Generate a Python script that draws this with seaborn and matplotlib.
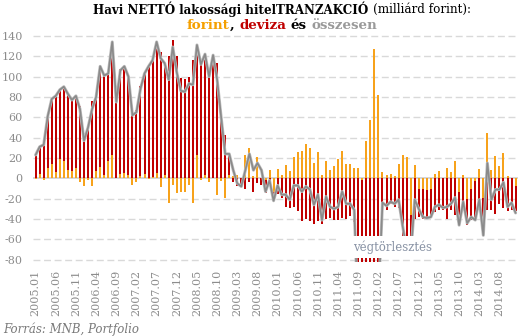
import matplotlib
matplotlib.use("Agg")
import matplotlib.pyplot as plt
import matplotlib.patheffects as pe
from matplotlib.patches import Rectangle
import seaborn as sns
import numpy as np
import pandas as pd

# Havi nettó lakossági hiteltranzakciók, milliárd forint (2005.01 - 2014.12)
honapok = [f"{ev}.{ho:02d}" for ev in range(2005, 2015) for ho in range(1, 13)]

forint = [
    -1, 4, -2, 10, 14, 6, 19, 17, 8, 7, 10, -4,
    -8, -2, -8, 7, 11, 3, 17, 23, 0, 4, 5, 3,
    -7, -4, 2, 4, -1, 1, 5, -9, 3, -24, -7, -14,
    -13, -13, -7, -24, 23, -2, 3, -4, 0, -16, -3, -19,
    3, 2, 3, 0, 23, 30, 2, 21, 0, -2, 8, -13,
    9, 3, 13, 7, 21, 26, 27, 34, 30, 15, 26, 3,
    17, 8, 12, 19, 27, 14, 14, 10, 10, -2, 37, 57,
    127, 82, 6, 3, 4, 2, 14, 23, 21, -36, 13, -10,
    -10, -11, -10, 4, 7, 0, 10, 6, 17, -13, 3, -20,
    -10, -3, 9, -19, 45, 8, 22, 12, 25, 2, 0, -8,
]

deviza = [
    22, 27, 33, 51, 65, 75, 68, 72, 75, 70, 71, 71,
    38, 49, 76, 74, 99, 99, 86, 111, 75, 103, 105, 98,
    69, 67, 89, 99, 111, 115, 128, 124, 110, 120, 136, 120,
    99, 98, 100, 116, 107, 112, 120, 100, 121, 113, 63, 43,
    21, -4, -8, -8, -10, -4, -13, -5, -7, -12, -6, -8,
    -15, -19, -28, -29, -28, -32, -42, -40, -42, -45, -42, -45,
    -40, -39, -41, -41, -39, -40, -37, -43, -150, -200, -250, -280,
    -300, -200, -28, -31, -25, -28, -29, -70, -75, -40, -40, -28,
    -30, -28, -28, -33, -31, -31, -40, -31, -36, -34, -30, -26,
    -31, -36, -31, -37, -31, -31, -35, -25, -29, -32, -31, -24,
]

osszesen = [
    23, 31, 33, 61, 78, 81, 87, 90, 83, 77, 81, 68,
    37, 50, 68, 80, 110, 101, 103, 134, 75, 106, 110, 100,
    62, 65, 88, 103, 110, 116, 134, 118, 113, 97, 129, 104,
    86, 85, 93, 92, 131, 112, 122, 100, 121, 97, 60, 24,
    24, 8, -5, -8, 8, 24, 8, 15, 8, -13, -2, -22,
    -7, -16, -16, -21, -7, -7, -13, -8, -11, -26, -16, -41,
    -18, -28, -30, -28, -13, -25, -25, -31, -140, -200, -213, -223,
    -173, -118, -24, -27, -23, -25, -21, -47, -70, -76, -21, -30,
    -38, -39, -38, -28, -26, -29, -28, -25, -19, -46, -23, -44,
    -38, -41, -21, -56, 15, -21, -11, -11, -4, -28, -24, -34,
]

y_ticks = list(range(-80, 141, 20))
tick_every = 5

C_FORINT = "#f7a21b"
C_DEVIZA = "#c00000"
C_TOTAL = "#8a8a8a"
C_AXIS = "#8c8c8c"
SERIF = "DejaVu Serif"

sns.set_theme(style="white")
plt.rcParams["font.family"] = [SERIF, "DejaVu Sans"]

df = pd.DataFrame({
    "honap": honapok,
    "forint": forint,
    "deviza": deviza,
    "osszesen": osszesen,
})
df["pos"] = np.arange(len(df))

W, H = 524, 336
fig = plt.figure(figsize=(W / 100, H / 100), dpi=100)
ax = fig.add_axes([33 / W, 1 - 261.8 / H, (518 - 33) / W, (261.8 - 34.8) / H])

# stacked columns: deviza sits on the forint column when both share a sign
F = df["forint"].to_numpy(float)
D = df["deviza"].to_numpy(float)
bottom_d = np.where(np.sign(F) == np.sign(D), F, 0.0)
bw = 0.5
ax.bar(df["pos"], F, width=bw, color=C_FORINT, linewidth=0, zorder=2)
ax.bar(df["pos"], D, bottom=bottom_d, width=bw, color=C_DEVIZA, linewidth=0, zorder=2)

sns.lineplot(data=df, x="pos", y="osszesen", ax=ax, color=C_TOTAL, linewidth=1.2,
             zorder=3, legend=False,
             path_effects=[pe.Stroke(linewidth=2.2, foreground="#bdbdbd"), pe.Normal()])

ax.set_xlim(-0.65, 119.6)
ax.set_ylim(-82, 141)

for v in y_ticks:
    if v == 0:
        ax.axhline(0, color="#cfcfcf", linewidth=1.2, zorder=1)
    else:
        ax.axhline(v, color="#d9d9d9", linewidth=1.0, linestyle=(0, (5, 2.6)), zorder=0.5)

ax.set_yticks(y_ticks)
ax.set_yticklabels([str(v) for v in y_ticks])
xt = df["pos"][::tick_every]
ax.set_xticks(xt)
ax.set_xticklabels(df["honap"][::tick_every], rotation=90)
ax.tick_params(axis="y", length=0, pad=7.5, labelsize=8, labelcolor=C_AXIS)
ax.tick_params(axis="x", length=0, pad=6, labelsize=8, labelcolor=C_AXIS)
for lab in ax.get_xticklabels() + ax.get_yticklabels():
    lab.set_family(SERIF)
for s in ax.spines.values():
    s.set_visible(False)
ax.set_xlabel("")
ax.set_ylabel("")
ax.grid(False)

# label for the early-repayment months, on a white panel
ax.add_patch(Rectangle((75, -78.3), 26.8, 21.6, facecolor="white", edgecolor="none", zorder=4))
ax.text(88.4, -67.5, "végtörlesztés", ha="center", va="center", fontsize=8.5,
        color="#8892a4", family=SERIF, zorder=5)

# two-line coloured title
renderer = fig.canvas.get_renderer()


def text_row(pieces, xc, yc, size):
    objs, widths = [], []
    sp = fig.text(0, 0, "a a", fontsize=size, fontweight="bold", family=SERIF)
    sp2 = fig.text(0, 0, "aa", fontsize=size, fontweight="bold", family=SERIF)
    space = sp.get_window_extent(renderer).width - sp2.get_window_extent(renderer).width
    sp.remove()
    sp2.remove()
    for s, col, wt, gap in pieces:
        t = fig.text(0, 1 - yc / H, s, color=col, fontweight=wt, fontsize=size,
                     family=SERIF, ha="left", va="center")
        objs.append(t)
        widths.append(t.get_window_extent(renderer).width + (space if gap else 0))
    x = xc - sum(widths) / 2
    for t, w in zip(objs, widths):
        t.set_x(x / W)
        x += w


text_row([("Havi NETTÓ lakossági hitelTRANZAKCIÓ", "black", "bold", True),
          ("(milliárd forint):", "black", "normal", False)], 282, 9.5, 8.6)
text_row([("forint", "#f5a000", "bold", False),
          (",", "black", "bold", True),
          ("deviza", C_DEVIZA, "bold", True),
          ("és", "black", "bold", True),
          ("összesen", "#9a9a9a", "bold", False)], 282, 25.5, 9.6)

fig.text(3 / W, 1 - 329 / H, "Forrás: MNB, Portfolio", fontsize=8.5, style="italic",
         color="#7a7a7a", family=SERIF, ha="left", va="center")

fig.savefig("out.png", dpi=100, facecolor="white")
